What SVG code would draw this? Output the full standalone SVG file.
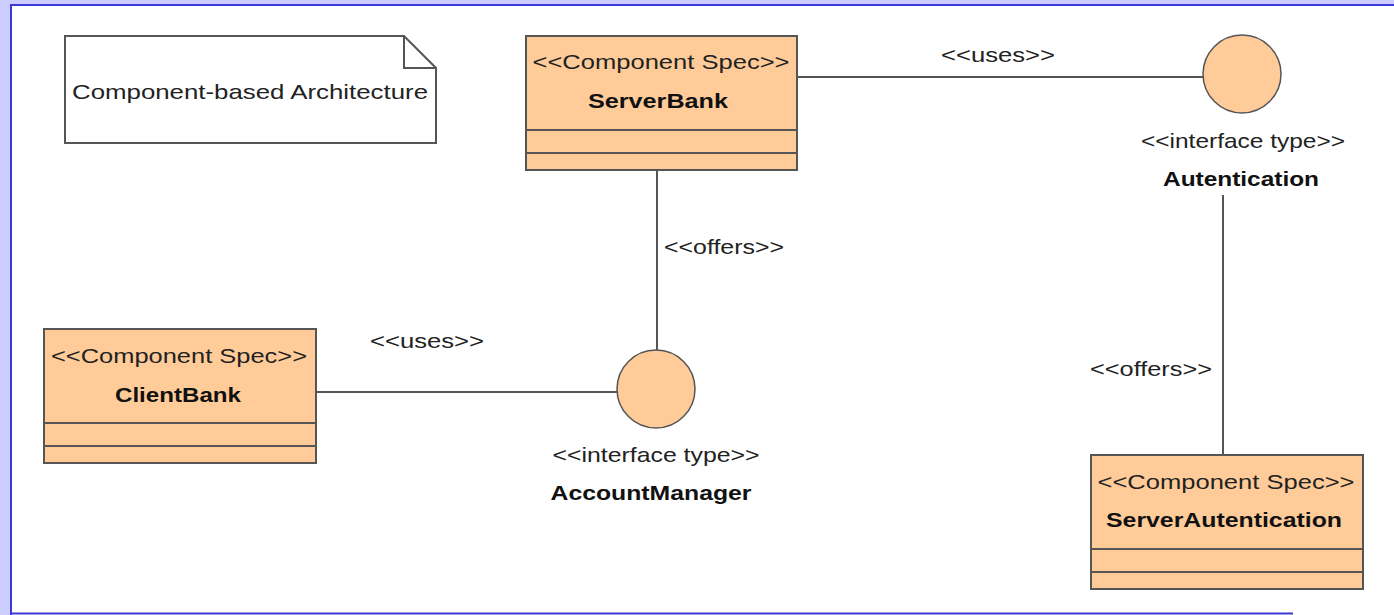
<svg xmlns="http://www.w3.org/2000/svg" width="1394" height="615" viewBox="0 0 1394 615">
<style>
.box{fill:#ffcc99;stroke:#555;stroke-width:2}
.div{stroke:#555;stroke-width:2}
.iface{fill:#ffcc99;stroke:#555;stroke-width:1.5}
.conn line{stroke:#555;stroke-width:2}
text{font-family:"Liberation Sans",Arial,sans-serif;font-size:21px;fill:#222;text-anchor:middle}
.b{font-weight:bold;fill:#111}
</style>
<rect x="0" y="0" width="1394" height="615" fill="#ccccff"/>
<rect x="12" y="6" width="1382" height="609" fill="#ffffff"/>
<line x1="10" y1="5" x2="1394" y2="5" stroke="#3a3ad8" stroke-width="2"/>
<line x1="11" y1="4" x2="11" y2="615" stroke="#3a3ad8" stroke-width="2"/>
<line x1="10" y1="613.5" x2="1293" y2="613.5" stroke="#3a3ad8" stroke-width="2"/>

<g id="note">
<path d="M65,36 H404 L436,68 V143 H65 Z" fill="#fff" stroke="#555" stroke-width="2"/>
<path d="M404,36 V68 H436" fill="none" stroke="#555" stroke-width="2"/>
<text x="250" y="99" textLength="356" lengthAdjust="spacingAndGlyphs">Component-based Architecture</text>
</g>

<g class="conn" id="connectors">
<line x1="797" y1="77" x2="1203" y2="77"/>
<line x1="657" y1="170" x2="657" y2="350"/>
<line x1="316" y1="392" x2="618" y2="392"/>
<line x1="1223" y1="195" x2="1223" y2="455"/>
<text x="998" y="62" textLength="114" lengthAdjust="spacingAndGlyphs">&lt;&lt;uses&gt;&gt;</text>
<text x="724" y="254" textLength="120" lengthAdjust="spacingAndGlyphs">&lt;&lt;offers&gt;&gt;</text>
<text x="427" y="348" textLength="114" lengthAdjust="spacingAndGlyphs">&lt;&lt;uses&gt;&gt;</text>
<text x="1151" y="376" textLength="122" lengthAdjust="spacingAndGlyphs">&lt;&lt;offers&gt;&gt;</text>
</g>

<g id="ServerBank">
<rect class="box" x="526" y="36" width="271" height="134"/>
<line class="div" x1="526" y1="130" x2="797" y2="130"/>
<line class="div" x1="526" y1="153" x2="797" y2="153"/>
<text x="661" y="69" textLength="257" lengthAdjust="spacingAndGlyphs">&lt;&lt;Component Spec&gt;&gt;</text>
<text class="b" x="658" y="108" textLength="140" lengthAdjust="spacingAndGlyphs">ServerBank</text>
</g>

<g id="ClientBank">
<rect class="box" x="44" y="329" width="272" height="134"/>
<line class="div" x1="44" y1="423" x2="316" y2="423"/>
<line class="div" x1="44" y1="446" x2="316" y2="446"/>
<text x="179" y="363" textLength="256" lengthAdjust="spacingAndGlyphs">&lt;&lt;Component Spec&gt;&gt;</text>
<text class="b" x="178" y="402" textLength="126" lengthAdjust="spacingAndGlyphs">ClientBank</text>
</g>

<g id="ServerAutentication">
<rect class="box" x="1091" y="455" width="272" height="134"/>
<line class="div" x1="1091" y1="549" x2="1363" y2="549"/>
<line class="div" x1="1091" y1="572" x2="1363" y2="572"/>
<text x="1226" y="489" textLength="257" lengthAdjust="spacingAndGlyphs">&lt;&lt;Component Spec&gt;&gt;</text>
<text class="b" x="1224" y="527" textLength="236" lengthAdjust="spacingAndGlyphs">ServerAutentication</text>
</g>

<g id="Autentication">
<circle class="iface" cx="1242" cy="74" r="39"/>
<text x="1243" y="148" textLength="204" lengthAdjust="spacingAndGlyphs">&lt;&lt;interface type&gt;&gt;</text>
<text class="b" x="1241" y="186" textLength="156" lengthAdjust="spacingAndGlyphs">Autentication</text>
</g>

<g id="AccountManager">
<circle class="iface" cx="656" cy="389" r="39"/>
<text x="656" y="462" textLength="207" lengthAdjust="spacingAndGlyphs">&lt;&lt;interface type&gt;&gt;</text>
<text class="b" x="651" y="500" textLength="201" lengthAdjust="spacingAndGlyphs">AccountManager</text>
</g>
</svg>
